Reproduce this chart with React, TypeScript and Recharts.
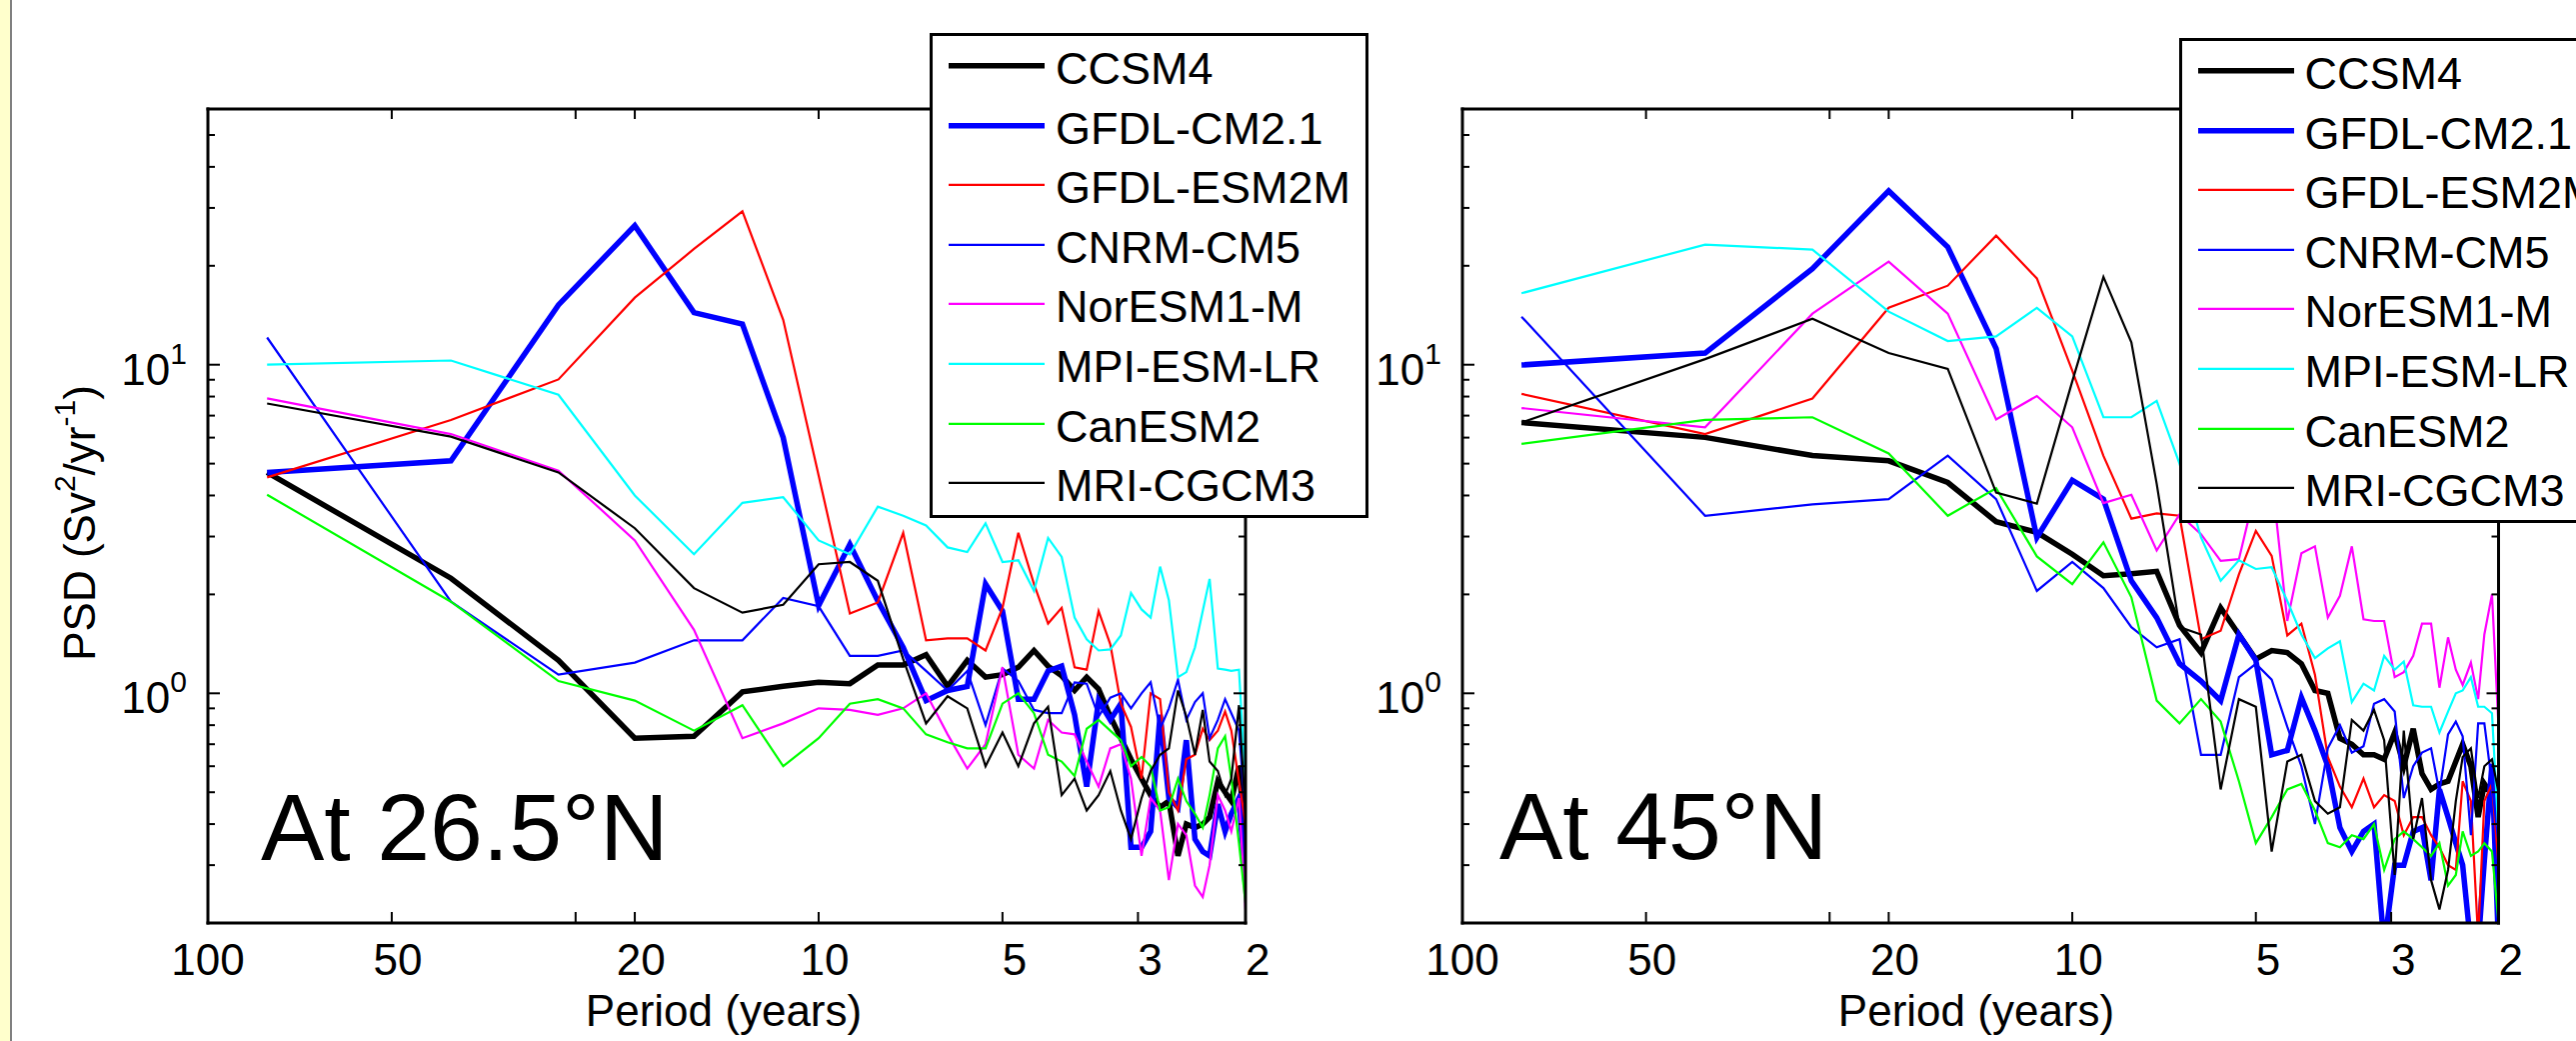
import React from 'react';
import { LineChart, Line, XAxis, YAxis, Legend } from 'recharts';

const FONT = '"Liberation Sans", Arial, Helvetica, sans-serif';

// Periods (years) of the spectral estimates
const PERIODS = [80, 40, 26.67, 20, 16, 13.33, 11.43, 10, 8.89, 8, 7.27, 6.67, 6.15, 5.71, 5.33, 5, 4.71, 4.44, 4.21, 4,
  3.81, 3.64, 3.48, 3.33, 3.2, 3.08, 2.96, 2.86, 2.76, 2.67, 2.58, 2.5, 2.42, 2.35, 2.29, 2.22, 2.16, 2.11, 2.05, 2];

const SERIES_KEYS = ['ccsm4', 'gfdlcm21', 'gfdlesm2m', 'cnrm', 'noresm', 'mpi', 'canesm', 'mri'];
const SERIES_NAMES = ['CCSM4', 'GFDL-CM2.1', 'GFDL-ESM2M', 'CNRM-CM5', 'NorESM1-M', 'MPI-ESM-LR', 'CanESM2', 'MRI-CGCM3'];
const SERIES_COLORS = ['#000000', '#0000ff', '#ff0000', '#0000ff', '#ff00ff', '#00ffff', '#00ff00', '#000000'];
const SERIES_WIDTHS = [5.5, 5.5, 2.2, 2.2, 2.2, 2.2, 2.2, 2.2];

// ---- At 26.5N ----
const CCSM4_26 = [4.7, 2.24, 1.26, 0.73, 0.74, 1.01, 1.05, 1.08, 1.07, 1.22, 1.22, 1.31, 1.05, 1.26, 1.12, 1.14, 1.2, 1.35, 1.21, 1.13, 1.02, 1.12, 1.03, 0.85, 0.73, 0.63, 0.55, 0.49, 0.45, 0.47, 0.32, 0.4, 0.39, 0.4, 0.42, 0.54, 0.5, 0.47, 0.6, 0.35];
const GFDLCM21_26 = [4.7, 5.1, 15.2, 26.5, 14.4, 13.3, 6.0, 1.85, 2.84, 1.91, 1.38, 0.95, 1.02, 1.05, 2.15, 1.78, 0.96, 0.96, 1.17, 1.21, 0.86, 0.52, 0.95, 0.83, 0.93, 0.34, 0.34, 0.38, 0.86, 0.48, 0.45, 0.72, 0.36, 0.33, 0.32, 0.46, 0.38, 0.43, 0.48, 0.26];
const GFDLESM2M_26 = [4.54, 6.79, 9.02, 16.0, 22.5, 29.3, 13.7, 4.6, 1.75, 1.89, 3.08, 1.45, 1.47, 1.47, 1.35, 1.82, 3.08, 2.15, 1.63, 1.82, 1.2, 1.18, 1.78, 1.41, 0.93, 0.79, 0.55, 1.0, 0.96, 0.5, 0.44, 0.63, 0.65, 0.78, 0.72, 0.77, 0.88, 0.77, 0.54, 0.4];
const CNRM_26 = [12.1, 1.9, 1.14, 1.24, 1.45, 1.45, 1.95, 1.84, 1.3, 1.3, 1.35, 1.17, 1.02, 1.17, 0.8, 1.19, 1.09, 0.89, 0.87, 0.87, 1.08, 1.07, 0.85, 0.97, 1.0, 0.9, 1.0, 1.08, 0.78, 0.9, 1.1, 0.83, 0.94, 1.0, 0.73, 0.83, 0.96, 0.87, 0.77, 0.43];
const NORESM_26 = [7.9, 6.15, 4.76, 2.92, 1.56, 0.73, 0.81, 0.9, 0.89, 0.86, 0.9, 1.0, 0.75, 0.59, 0.7, 1.2, 0.65, 0.59, 0.83, 0.76, 0.75, 0.62, 0.52, 0.68, 0.7, 0.55, 0.32, 0.48, 0.44, 0.27, 0.4, 0.37, 0.26, 0.24, 0.3, 0.49, 0.44, 0.38, 0.48, 0.22];
const MPI_26 = [10.0, 10.3, 8.1, 4.0, 2.65, 3.8, 3.95, 2.92, 2.65, 3.7, 3.47, 3.24, 2.78, 2.69, 3.29, 2.51, 2.54, 2.05, 2.97, 2.6, 1.7, 1.46, 1.35, 1.36, 1.5, 2.02, 1.8, 1.7, 2.43, 1.92, 1.12, 1.16, 1.38, 1.78, 2.23, 1.19, 1.18, 1.17, 1.18, 0.53];
const CANESM_26 = [4.02, 1.9, 1.09, 0.95, 0.77, 0.92, 0.6, 0.73, 0.93, 0.96, 0.9, 0.75, 0.71, 0.68, 0.68, 0.93, 1.0, 0.87, 0.65, 0.62, 0.56, 0.78, 0.83, 0.77, 0.72, 0.6, 0.64, 0.6, 0.44, 0.45, 0.55, 0.47, 0.43, 0.39, 0.49, 0.68, 0.74, 0.55, 0.35, 0.23];
const MRI_26 = [7.62, 6.04, 4.7, 3.18, 2.09, 1.76, 1.86, 2.47, 2.51, 2.2, 1.27, 0.81, 0.98, 0.9, 0.6, 0.76, 0.6, 0.81, 0.91, 0.49, 0.55, 0.44, 0.49, 0.58, 0.44, 0.36, 0.48, 0.58, 0.65, 0.68, 1.02, 0.85, 0.65, 0.89, 0.62, 0.58, 0.49, 0.55, 0.92, 0.43];

// ---- At 45N ----
const CCSM4_45 = [6.67, 6.01, 5.29, 5.1, 4.38, 3.33, 3.09, 2.65, 2.28, 2.31, 2.35, 1.61, 1.33, 1.82, 1.51, 1.27, 1.35, 1.33, 1.23, 1.02, 1.0, 0.73, 0.7, 0.65, 0.65, 0.63, 0.76, 0.6, 0.78, 0.57, 0.51, 0.53, 0.54, 0.62, 0.7, 0.6, 0.42, 0.53, 0.49, 0.37];
const GFDLCM21_45 = [9.98, 10.85, 19.6, 33.8, 22.8, 11.2, 2.98, 4.45, 3.9, 2.2, 1.7, 1.23, 1.09, 0.95, 1.51, 1.26, 0.65, 0.67, 0.97, 0.77, 0.6, 0.39, 0.33, 0.38, 0.4, 0.17, 0.3, 0.3, 0.38, 0.39, 0.27, 0.51, 0.42, 0.35, 0.3, 0.17, 0.17, 0.31, 0.61, 0.17];
const GFDLESM2M_45 = [8.15, 6.15, 7.89, 14.9, 17.4, 24.7, 18.3, 9.6, 5.28, 3.4, 3.53, 3.47, 1.46, 1.55, 2.3, 3.12, 2.62, 1.5, 1.63, 1.14, 0.64, 0.52, 0.45, 0.55, 0.45, 0.49, 0.47, 0.37, 0.42, 0.42, 0.37, 0.34, 0.3, 0.29, 0.54, 0.47, 0.18, 0.47, 0.53, 0.3];
const CNRM_45 = [14.0, 3.47, 3.76, 3.9, 5.29, 3.9, 2.05, 2.51, 2.09, 1.59, 1.38, 1.46, 0.65, 0.65, 1.12, 1.23, 1.1, 0.79, 0.6, 0.4, 0.68, 0.8, 0.66, 0.69, 0.93, 0.96, 0.88, 0.48, 0.6, 0.66, 0.68, 0.5, 0.75, 0.82, 0.74, 0.37, 0.81, 0.81, 0.53, 0.35];
const NORESM_45 = [7.38, 6.45, 14.3, 20.6, 14.3, 6.81, 8.03, 6.45, 3.79, 4.02, 2.72, 3.5, 3.05, 2.53, 2.56, 4.2, 4.6, 1.66, 2.67, 2.8, 1.7, 1.98, 2.8, 1.68, 1.66, 1.66, 1.12, 1.16, 1.3, 1.63, 1.63, 1.04, 1.48, 1.18, 1.06, 1.24, 0.96, 1.51, 2.0, 0.79];
const MPI_45 = [16.5, 23.2, 22.4, 14.5, 11.8, 12.2, 14.9, 12.2, 6.92, 6.92, 7.76, 5.0, 2.98, 2.2, 2.54, 2.39, 2.42, 1.91, 1.51, 1.28, 1.37, 1.44, 0.94, 1.07, 1.02, 1.3, 1.18, 1.25, 0.92, 0.91, 0.91, 0.76, 0.88, 1.0, 1.02, 1.12, 0.91, 0.91, 0.87, 0.37];
const CANESM_45 = [5.74, 6.79, 6.92, 5.37, 3.47, 4.21, 2.61, 2.15, 2.88, 1.96, 0.95, 0.81, 0.96, 0.82, 0.54, 0.35, 0.42, 0.51, 0.53, 0.44, 0.35, 0.34, 0.37, 0.36, 0.4, 0.29, 0.36, 0.38, 0.36, 0.34, 0.32, 0.35, 0.26, 0.28, 0.38, 0.32, 0.33, 0.35, 0.33, 0.2];
const MRI_45 = [6.67, 10.4, 13.8, 10.85, 9.71, 4.08, 3.78, 8.9, 18.5, 11.7, 4.34, 1.59, 1.51, 0.51, 0.96, 0.91, 0.33, 0.62, 0.65, 0.47, 0.43, 0.45, 0.83, 0.77, 0.89, 0.72, 0.28, 0.77, 0.36, 0.48, 0.27, 0.22, 0.29, 0.47, 0.64, 0.68, 0.48, 0.6, 0.63, 0.5];

// Axis ticks
const X_TICKS = [100, 50, 25, 20, 10, 5, 3, 2];
const X_LABELS = [100, 50, 20, 10, 5, 3, 2];
const Y_TICKS = [0.3, 0.4, 0.5, 0.6, 0.7, 0.8, 0.9, 1, 2, 3, 4, 5, 6, 7, 8, 9, 10, 20, 30, 40, 50];
const X_DOMAIN = [2, 100];
const Y_DOMAIN = [0.2, 60];

const makeData = (cols: number[][]) =>
  PERIODS.map((p, i) => {
    const row: Record<string, number> = { period: p };
    cols.forEach((c, j) => {
      row[SERIES_KEYS[j]] = c[i];
    });
    return row;
  });

const DATA_26 = makeData([CCSM4_26, GFDLCM21_26, GFDLESM2M_26, CNRM_26, NORESM_26, MPI_26, CANESM_26, MRI_26]);
const DATA_45 = makeData([CCSM4_45, GFDLCM21_45, GFDLESM2M_45, CNRM_45, NORESM_45, MPI_45, CANESM_45, MRI_45]);

const AXIS_LINE = { stroke: '#000', strokeWidth: 3, strokeLinecap: 'square' as const };

const BottomTick = (props: any) => {
  const { x, y, payload } = props;
  const v = payload.value;
  const labeled = X_LABELS.indexOf(v) >= 0;
  const s = String(v);
  const shift = (3 - s.length) * 6.1;
  return (
    <g>
      <line x1={x} x2={x} y1={y} y2={y - 11} stroke="#000" strokeWidth={2} />
      {labeled && (
        <text x={x + shift} y={y + 52} textAnchor="middle" fontSize={44} fill="#000" fontFamily={FONT}>
          {s}
        </text>
      )}
    </g>
  );
};

const TopTick = (props: any) => {
  const { x, y } = props;
  return <line x1={x} x2={x} y1={y} y2={y + 10} stroke="#000" strokeWidth={2} />;
};

const LeftTick = (props: any) => {
  const { x, y, payload } = props;
  const v = payload.value;
  const major = v === 1 || v === 10;
  return (
    <g>
      <line x1={x} x2={x + (major ? 12 : 7)} y1={y} y2={y} stroke="#000" strokeWidth={2} />
      {major && (
        <text x={x - 21} y={y + 20} textAnchor="end" fontSize={44} fill="#000" fontFamily={FONT}>
          10
          <tspan dy={-21} fontSize={30}>
            {v === 10 ? '1' : '0'}
          </tspan>
        </text>
      )}
    </g>
  );
};

const RightTick = (props: any) => {
  const { x, y, payload } = props;
  const v = payload.value;
  const major = v === 1 || v === 10;
  return <line x1={x} x2={x - (major ? 12 : 7)} y1={y} y2={y} stroke="#000" strokeWidth={2} />;
};

const LegendBox = (props: any) => {
  const payload = (props.payload || [])
    .filter((e: any) => e.type !== 'none' && SERIES_NAMES.indexOf(e.value) >= 0)
    .slice()
    .sort((a: any, b: any) => SERIES_NAMES.indexOf(a.value) - SERIES_NAMES.indexOf(b.value));
  return (
    <div
      style={{
        width: 439,
        height: 485,
        boxSizing: 'border-box',
        border: '3px solid #000',
        background: '#fff',
        fontFamily: FONT,
      }}
    >
      {payload.map((entry: any) => {
        const idx = SERIES_NAMES.indexOf(entry.value);
        const w = idx >= 0 ? SERIES_WIDTHS[idx] : 2.2;
        const c = idx >= 0 ? SERIES_COLORS[idx] : entry.color;
        return (
          <div key={entry.value} style={{ position: 'relative', height: 59.6 }}>
            <svg width={123} height={59.6} style={{ position: 'absolute', left: 0, top: 0 }}>
              <line x1={16} x2={112} y1={29.8} y2={29.8} stroke={c} strokeWidth={w} />
            </svg>
            <span
              style={{
                position: 'absolute',
                left: 123,
                top: 10,
                fontSize: 45,
                lineHeight: '45px',
                whiteSpace: 'nowrap',
                color: '#000',
              }}
            >
              {entry.value}
            </span>
          </div>
        );
      })}
    </div>
  );
};

type PanelProps = {
  data: Record<string, number>[];
  width: number;
  plotLeft: number;
  plotRight: number;
  legendLeft: number;
  legendTop: number;
};

const PsdPanel = ({ data, width, plotLeft, plotRight, legendLeft, legendTop }: PanelProps) => (
  <LineChart
    width={width}
    height={1041}
    data={data}
    margin={{ top: 108, right: width - plotRight - 1, bottom: 0, left: 0 }}
  >
    <XAxis
      xAxisId="b"
      dataKey="period"
      type="number"
      scale="log"
      domain={X_DOMAIN}
      reversed
      allowDataOverflow
      ticks={X_TICKS}
      interval={0}
      orientation="bottom"
      height={118}
      tickSize={0}
      tickMargin={0}
      tickLine={false}
      tick={BottomTick}
      axisLine={AXIS_LINE}
    />
    <XAxis
      xAxisId="t"
      dataKey="period"
      type="number"
      scale="log"
      domain={X_DOMAIN}
      reversed
      allowDataOverflow
      ticks={X_TICKS}
      interval={0}
      orientation="top"
      height={1}
      tickSize={0}
      tickMargin={0}
      tickLine={false}
      tick={TopTick}
      axisLine={AXIS_LINE}
    />
    <YAxis
      yAxisId="l"
      type="number"
      scale="log"
      domain={Y_DOMAIN}
      allowDataOverflow
      ticks={Y_TICKS}
      interval={0}
      orientation="left"
      width={plotLeft}
      tickSize={0}
      tickMargin={0}
      tickLine={false}
      tick={LeftTick}
      axisLine={AXIS_LINE}
    />
    <YAxis
      yAxisId="r"
      type="number"
      scale="log"
      domain={Y_DOMAIN}
      allowDataOverflow
      ticks={Y_TICKS}
      interval={0}
      orientation="right"
      width={1}
      tickSize={0}
      tickMargin={0}
      tickLine={false}
      tick={RightTick}
      axisLine={AXIS_LINE}
    />
    {SERIES_KEYS.map((k, i) => (
      <Line
        key={k}
        xAxisId="b"
        yAxisId="l"
        type="linear"
        dataKey={k}
        name={SERIES_NAMES[i]}
        stroke={SERIES_COLORS[i]}
        strokeWidth={SERIES_WIDTHS[i]}
        dot={false}
        activeDot={false}
        isAnimationActive={false}
      />
    ))}
    <Line
      xAxisId="t"
      yAxisId="r"
      dataKey="ccsm4"
      stroke="none"
      legendType="none"
      dot={false}
      activeDot={false}
      isAnimationActive={false}
    />
    <Legend
      layout="vertical"
      align="center"
      verticalAlign="middle"
      itemSorter={null as any}
      content={LegendBox}
      wrapperStyle={{ left: legendLeft, top: legendTop, width: 439, height: 485 }}
    />
  </LineChart>
);

export default function App() {
  return (
    <div
      style={{
        position: 'absolute',
        left: 0,
        top: 0,
        width: 2577,
        height: 1041,
        overflow: 'hidden',
        background: '#fff',
        fontFamily: FONT,
      }}
    >
      <div style={{ position: 'absolute', left: 0, top: 0, width: 10, height: 1041, background: '#ffffcc' }} />
      <div style={{ position: 'absolute', left: 10, top: 0, width: 2, height: 1041, background: '#808080' }} />
      <div style={{ position: 'absolute', left: 0, top: 0 }}>
        <PsdPanel data={DATA_26} width={1300} plotLeft={208} plotRight={1246} legendLeft={930} legendTop={33} />
      </div>
      <div style={{ position: 'absolute', left: 1300, top: 0 }}>
        <PsdPanel data={DATA_45} width={1277} plotLeft={163} plotRight={1199.5} legendLeft={879.5} legendTop={38} />
      </div>
      <svg
        width={2577}
        height={1041}
        style={{ position: 'absolute', left: 0, top: 0, pointerEvents: 'none' }}
        fontFamily={FONT}
      >
        <text transform="translate(95,523) rotate(-90)" textAnchor="middle" fontSize={44} fill="#000">
          PSD (Sv
          <tspan dy={-20} fontSize={30}>2</tspan>
          <tspan dy={20}>/yr</tspan>
          <tspan dy={-20} fontSize={30}>-1</tspan>
          <tspan dy={20}>)</tspan>
        </text>
        <text x={724} y={1026} textAnchor="middle" fontSize={44} fill="#000">
          Period (years)
        </text>
        <text x={1977} y={1026} textAnchor="middle" fontSize={44} fill="#000">
          Period (years)
        </text>
        <text x={261} y={860} fontSize={95} fill="#000">
          At 26.5°N
        </text>
        <text x={1500} y={859} fontSize={95} fill="#000">
          At 45°N
        </text>
      </svg>
    </div>
  );
}
